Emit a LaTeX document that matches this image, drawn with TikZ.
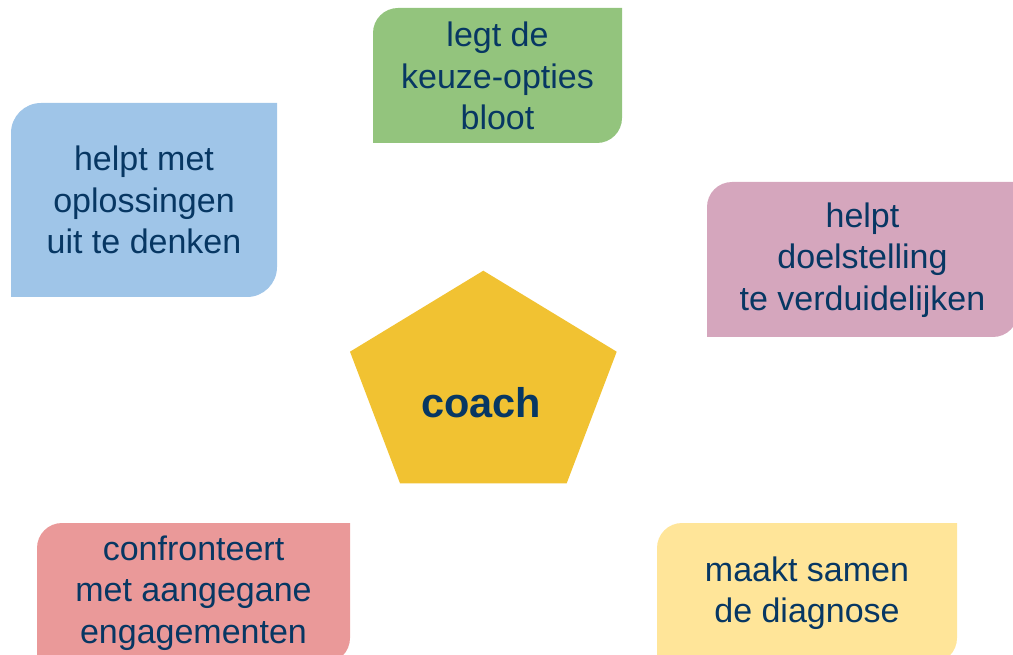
\documentclass[tikz,border=0pt]{standalone}
\usepackage{fontspec}
\setmainfont{Liberation Sans}
\definecolor{navy}{HTML}{073763}
\definecolor{cgreen}{HTML}{93C47D}
\definecolor{cblue}{HTML}{9FC5E8}
\definecolor{cpink}{HTML}{D5A6BD}
\definecolor{cred}{HTML}{EA9999}
\definecolor{cyellow}{HTML}{FFE599}
\definecolor{cgold}{HTML}{F1C232}
\newcommand\diagbox[6]{%
  \fill[#6] (#1,#4) -- (#1,{#2+#5})
    .. controls (#1,{#2+0.4477*#5}) and ({#1+0.4477*#5},#2) .. ({#1+#5},#2)
    -- (#3,#2) -- (#3,{#4-#5})
    .. controls (#3,{#4-0.4477*#5}) and ({#3-0.4477*#5},#4) .. ({#3-#5},#4)
    -- cycle;}
\begin{document}
\begin{tikzpicture}[x=1pt,y=-1pt,
  lbl/.style={text=navy,align=center,inner sep=0pt,font=\fontsize{34}{41.5}\selectfont},
  coachlbl/.style={text=navy,inner sep=0pt,font=\fontsize{41.5}{48}\selectfont\bfseries}]
\useasboundingbox (0,0) rectangle (1013,655);
\clip (0,0) rectangle (1013,655);
\diagbox{373}{8}{622}{143}{25}{cgreen}
\diagbox{11}{103}{277}{297}{30}{cblue}
\diagbox{707}{182}{1018}{337}{25}{cpink}
\diagbox{37}{523}{350}{663}{25}{cred}
\diagbox{657}{523}{957}{663}{25}{cyellow}
\fill[cgold] (483.3,270.7) -- (616.7,351.7) -- (566.7,483.3) -- (400,483.3) -- (350,351.7) -- cycle;
\node[lbl] (keuze) at (497.5,76) {legt de\\keuze-opties\\bloot};
\node[lbl] (oplos) at (144,200) {helpt met\\oplossingen\\uit te denken};
\node[lbl] (doel) at (862.5,260) {helpt\\doelstelling\\te verduidelijken};
\node[lbl] (confr) at (193.5,593) {confronteert\\met aangegane\\engagementen};
\node[lbl] (diag) at (807,593) {maakt samen\\de diagnose};
\node[coachlbl,anchor=base] (coach) at (481,417) {coach};
\end{tikzpicture}
\end{document}
